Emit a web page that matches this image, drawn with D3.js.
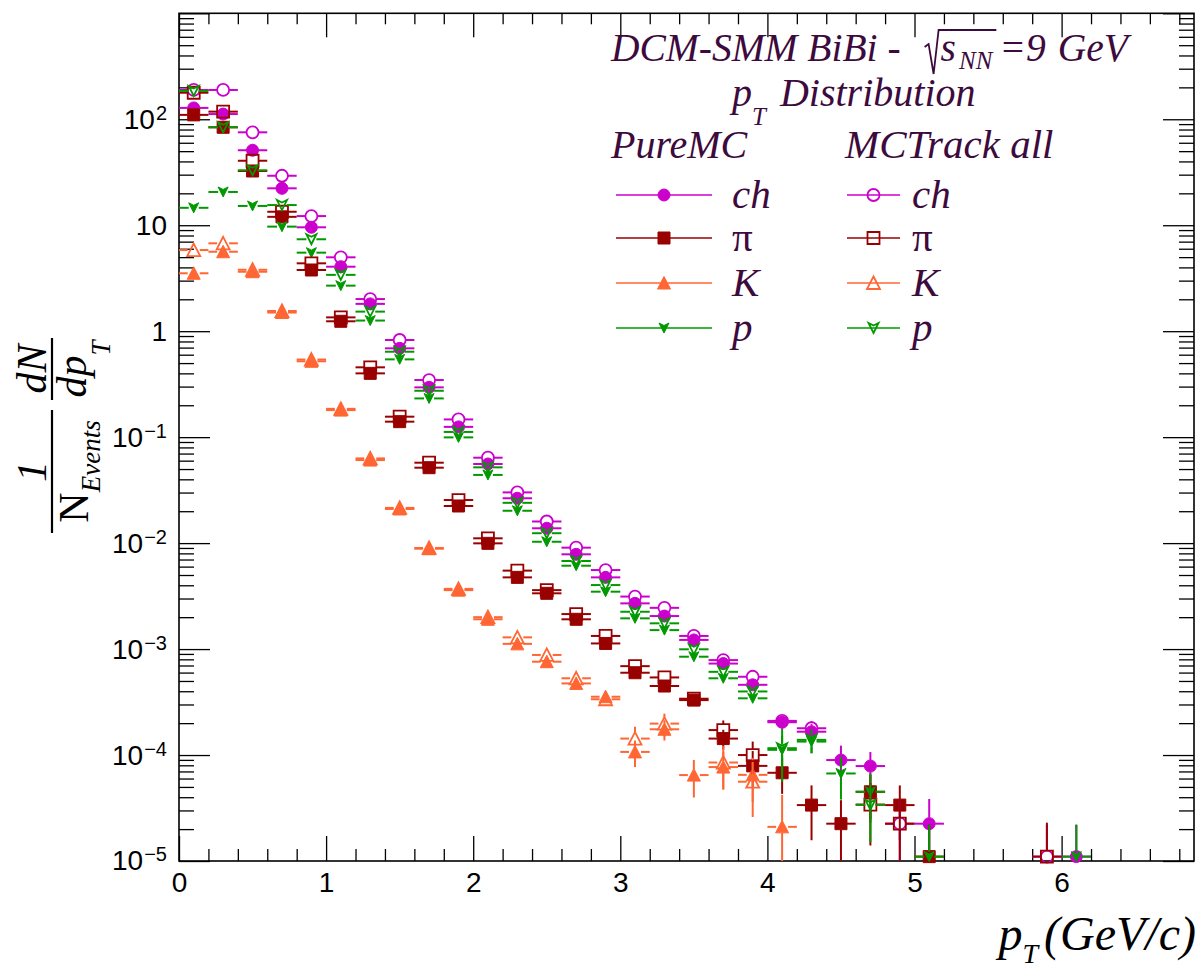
<!DOCTYPE html>
<html>
<head>
<meta charset="utf-8">
<script src="https://cdn.jsdelivr.net/npm/d3@7"></script>
<style>
  body { margin: 0; background: #fff; }
</style>
</head>
<body>
<div id="chart"></div>
<script>
// pT bin centres (GeV/c), bins are 0.2 wide
const binCenters = [0.1, 0.3, 0.5, 0.7, 0.9, 1.1, 1.3, 1.5, 1.7, 1.9, 2.1, 2.3, 2.5, 2.7, 2.9,
  3.1, 3.3, 3.5, 3.7, 3.9, 4.1, 4.3, 4.5, 4.7, 4.9, 5.1, 5.3, 5.5, 5.7, 5.9, 6.1];
const binHalf = 0.1;

// PureMC
const chPure = [128, 112, 51, 22.3, 9.56, 4.06, 1.81, 0.689, 0.295, 0.125, 0.0558, 0.0265, 0.0138, 0.00784, 0.00475,
  0.0027, 0.00205, 0.00122, 0.00073, 0.00046, 0.000204, 0.000166, 8.97e-5, 7.87e-5, null, 2.25e-5, null, null, null, null, 1.1e-5];
const piPure = [110, 84, 32.5, 12.0, 3.78, 1.24, 0.40, 0.14, 0.0515, 0.0224, 0.00995, 0.00475, 0.00336, 0.00191, 0.00113,
  0.000598, 0.000448, 0.00033, 0.000143, 7.9e-5, 6.8e-5, 3.37e-5, 2.25e-5, 4.5e-5, 3.37e-5, 1.1e-5, null, null, null, null, null];
const kPure = [3.52, 5.62, 3.64, 1.5, 0.52, 0.18, 0.0608, 0.021, 0.00885, 0.0036, 0.00191, 0.00112, 0.00076, 0.000474, 0.000355,
  0.000107, 0.000175, 6.47e-5, 7.7e-5, 6.5e-5, 2.1e-5, null, null, null, null, null, null, null, null, null, null];
const pPure = [14.6, 20.6, 15.2, 9.7, 5.51, 2.69, 1.26, 0.542, 0.232, 0.0995, 0.044, 0.0202, 0.0103, 0.00612, 0.00348,
  0.00195, 0.00151, 0.000847, 0.00053, 0.000343, 0.000112, 0.000134, 6.7e-5, 4.5e-5, null, 1.1e-5, null, null, null, null, 1.1e-5];

// MCTrack all
const chMC = [189, 189, 75.3, 29.3, 12.2, 4.98, 2.01, 0.826, 0.346, 0.147, 0.064, 0.0301, 0.016, 0.00906, 0.00557,
  0.00313, 0.00245, 0.00133, 0.000787, 0.000548, 0.00021, 0.000179, null, null, 2.25e-5, null, null, null, null, 1.1e-5, null];
const piMC = [178, 118, 40.6, 13.4, 4.37, 1.35, 0.456, 0.156, 0.0574, 0.0255, 0.0111, 0.0055, 0.0036, 0.00214, 0.00133,
  0.00069, 0.00054, 0.00034, 0.000172, 1.0e-4, null, null, null, 3.4e-5, 2.25e-5, null, null, null, null, 1.1e-5, null];
const kMC = [5.83, 6.75, 3.8, 1.55, 0.54, 0.185, 0.063, 0.0215, 0.009, 0.0037, 0.002, 0.00129, 0.00088, 0.00053, 0.000336,
  0.000143, 0.000198, null, 8.5e-5, 5.6e-5, null, null, null, null, null, null, null, null, null, null, null];
const pMC = [185, 84, 33, 15.5, 7.37, 3.4, 1.53, 0.64, 0.274, 0.112, 0.0519, 0.024, 0.0124, 0.00678, 0.00402,
  0.00225, 0.00175, 0.000995, 0.00061, 0.000398, 0.000116, 0.000139, null, 3.4e-5, null, null, null, null, null, null, null];

// vertical (statistical) errors, only where they show
const chPureErr = [0, 0, 0, 0, 0, 0, 0, 0, 0, 0, 0, 0, 0, 0, 0,
  0, 0, 0, 0, 0, 3e-5, 3e-5, 3.3e-5, 2.8e-5, 0, 1.6e-5, 0, 0, 0, 0, 1.1e-5];
const piPureErr = [0, 0, 0, 0, 0, 0, 0, 0, 0, 0, 0, 0, 0, 0, 0,
  0, 0, 4e-5, 3e-5, 3e-5, 2.5e-5, 1.8e-5, 1.5e-5, 2e-5, 1.8e-5, 1.1e-5, 0, 0, 0, 0, 0];
const kPureErr = [0, 0, 0, 0, 0, 0, 0, 0, 0, 0, 0, 0, 0, 0, 0,
  3e-5, 3.8e-5, 2.5e-5, 3e-5, 2.9e-5, 2.1e-5, 0, 0, 0, 0, 0, 0, 0, 0, 0, 0];
const pPureErr = [0, 0, 0, 0, 0, 0, 0, 0, 0, 0, 0, 0, 0, 0, 0,
  0, 0, 0, 0, 0, 4e-5, 3e-5, 2.9e-5, 2.2e-5, 0, 1.1e-5, 0, 0, 0, 0, 1.1e-5];
const chMCErr = [0, 0, 0, 0, 0, 0, 0, 0, 0, 0, 0, 0, 0, 0, 0,
  0, 0, 0, 0, 0, 3e-5, 3e-5, 0, 0, 1.5e-5, 0, 0, 0, 0, 1.1e-5, 0];
const piMCErr = [0, 0, 0, 0, 0, 0, 0, 0, 0, 0, 0, 0, 0, 0, 0,
  0, 0, 0, 4e-5, 3.4e-5, 0, 0, 0, 2e-5, 1.5e-5, 0, 0, 0, 0, 1.2e-5, 0];
const kMCErr = [0, 0, 0, 0, 0, 0, 0, 0, 0, 0, 0, 0, 0, 0, 0,
  4.2e-5, 4.8e-5, 0, 3.7e-5, 3e-5, 0, 0, 0, 0, 0, 0, 0, 0, 0, 0, 0];
const pMCErr = [0, 0, 0, 0, 0, 0, 0, 0, 0, 0, 0, 0, 0, 0, 0,
  0, 0, 0, 0, 0, 6e-5, 3.5e-5, 0, 1.9e-5, 0, 0, 0, 0, 0, 0, 0];

const xMajor = [0, 1, 2, 3, 4, 5, 6];
const yMajor = [1e-5, 1e-4, 1e-3, 1e-2, 1e-1, 1, 10, 100, 1000];
const yLabels = ['10|−5', '10|−4', '10|−3', '10|−2', '10|−1', '1', '10', '10|2', ''];
const legendNames = ['ch', 'π', 'K', 'p'];

const colCh = '#cc00cc';
const colPi = '#990000';
const colK = '#ff6633';
const colP = '#009900';
const textCol = '#3d0a3d';
const serif = "'Liberation Serif', 'Times New Roman', serif";
const sans = "'Liberation Sans', Arial, Helvetica, sans-serif";

const width = 1200, height = 972;
const box = { left: 179, right: 1194, top: 13.3, bottom: 861 };

const svg = d3.select('#chart').append('svg')
  .attr('width', width)
  .attr('height', height);

const x = d3.scaleLinear().domain([0, 6.9]).range([box.left, box.right]);
const y = d3.scaleLog().domain([1e-5, 1e3]).range([box.bottom, box.top]);

// ---- axes ----
const xMinor = d3.range(0.2, 6.9, 0.2).filter(v => Math.abs(v - Math.round(v)) > 1e-6);
const yMinor = [];
for (let k = -5; k < 3; k++) for (let m = 2; m <= 9; m++) yMinor.push(m * Math.pow(10, k));

function styleAxis(g) {
  g.select('.domain').remove();
  g.selectAll('line').attr('stroke', '#000').attr('stroke-width', 1.3);
}

svg.append('g').attr('transform', `translate(0,${box.bottom})`)
  .call(d3.axisBottom(x).tickValues(xMajor).tickSize(-25).tickPadding(11).tickFormat(d3.format('d')))
  .call(styleAxis)
  .selectAll('text').style('font-family', sans).style('font-size', '28px').attr('fill', '#000');
svg.append('g').attr('transform', `translate(0,${box.bottom})`)
  .call(d3.axisBottom(x).tickValues(xMinor).tickSize(-12).tickFormat(''))
  .call(styleAxis);
svg.append('g').attr('transform', `translate(0,${box.top})`)
  .call(d3.axisTop(x).tickValues(xMajor).tickSize(-24).tickFormat(''))
  .call(styleAxis);
svg.append('g').attr('transform', `translate(0,${box.top})`)
  .call(d3.axisTop(x).tickValues(xMinor).tickSize(-11).tickFormat(''))
  .call(styleAxis);

const yAx = svg.append('g').attr('transform', `translate(${box.left},0)`)
  .call(d3.axisLeft(y).tickValues(yMajor).tickSize(-31).tickPadding(12).tickFormat((d, i) => yLabels[i]))
  .call(styleAxis);
yAx.selectAll('text')
  .style('font-family', sans).style('font-size', '28px').attr('fill', '#000')
  .each(function () {
    const t = d3.select(this);
    const parts = t.text().split('|');
    t.text(parts[0]);
    if (parts.length > 1) {
      t.append('tspan').attr('dy', '-0.45em').attr('dx', 1).style('font-size', '20px').text(parts[1]);
    }
  });
svg.append('g').attr('transform', `translate(${box.left},0)`)
  .call(d3.axisLeft(y).tickValues(yMinor).tickSize(-15).tickFormat(''))
  .call(styleAxis);
svg.append('g').attr('transform', `translate(${box.right},0)`)
  .call(d3.axisRight(y).tickValues(yMajor).tickSize(-31).tickFormat(''))
  .call(styleAxis);
svg.append('g').attr('transform', `translate(${box.right},0)`)
  .call(d3.axisRight(y).tickValues(yMinor).tickSize(-15).tickFormat(''))
  .call(styleAxis);

svg.append('rect')
  .attr('x', box.left).attr('y', box.top)
  .attr('width', box.right - box.left).attr('height', box.bottom - box.top)
  .attr('fill', 'none').attr('stroke', '#000').attr('stroke-width', 1.6);

// ---- markers ----
const markerPaths = {
  circle: 'M-6,0A6,6 0 1,0 6,0A6,6 0 1,0 -6,0Z',
  square: 'M-6,-6H6V6H-6Z',
  triUp: 'M0,-6.5L6.5,6L-6.5,6Z',
  triDown: 'M0,5L5,-5L0,-2.5L-5,-5Z'
};
const markerGap = { circle: 6, square: 6, triUp: 6, triDown: 5 };

function drawMarker(g, shape, filled, color, cx, cy) {
  g.append('path')
    .attr('d', markerPaths[shape])
    .attr('transform', `translate(${cx},${cy})`)
    .attr('fill', filled ? color : 'none')
    .attr('stroke', color)
    .attr('stroke-width', filled ? 1 : 1.8);
}

const series = [
  { values: chPure, errors: chPureErr, color: colCh, shape: 'circle', filled: true },
  { values: piPure, errors: piPureErr, color: colPi, shape: 'square', filled: true },
  { values: kPure, errors: kPureErr, color: colK, shape: 'triUp', filled: true },
  { values: pPure, errors: pPureErr, color: colP, shape: 'triDown', filled: true },
  { values: chMC, errors: chMCErr, color: colCh, shape: 'circle', filled: false },
  { values: piMC, errors: piMCErr, color: colPi, shape: 'square', filled: false },
  { values: kMC, errors: kMCErr, color: colK, shape: 'triUp', filled: false },
  { values: pMC, errors: pMCErr, color: colP, shape: 'triDown', filled: false }
];

const plot = svg.append('g');
series.forEach(s => {
  const g = plot.append('g');
  const gap = markerGap[s.shape];
  const pts = binCenters.map((c, i) => ({ c: c, v: s.values[i], e: s.errors[i] }))
    .filter(d => d.v !== null);
  pts.forEach(d => {
    const cx = x(d.c), cy = y(d.v);
    const segs = [
      [x(d.c - binHalf), cy, cx - gap, cy],
      [cx + gap, cy, x(d.c + binHalf), cy]
    ];
    if (d.e > 0) {
      const top = y(d.v + d.e);
      const bot = d.v - d.e > 1e-5 ? y(d.v - d.e) : box.bottom;
      if (top < cy - gap) segs.push([cx, top, cx, cy - gap]);
      if (bot > cy + gap) segs.push([cx, cy + gap, cx, bot]);
    }
    segs.forEach(sg => {
      g.append('line')
        .attr('x1', sg[0]).attr('y1', sg[1]).attr('x2', sg[2]).attr('y2', sg[3])
        .attr('stroke', s.color).attr('stroke-width', 2);
    });
    drawMarker(g, s.shape, s.filled, s.color, cx, cy);
  });
});

// ---- TLatex-like text: one <text> with tspans ----
function latex(g, x0, baseline, pieces, opts) {
  opts = opts || {};
  const t = g.append('text')
    .attr('x', x0).attr('y', baseline)
    .style('font-family', serif).style('font-style', 'italic')
    .attr('fill', opts.color || textCol);
  let shift = 0, pad = 0;
  pieces.forEach(p => {
    if (p.space) { pad += p.space; return; }
    const dy = (p.dy || 0) - shift;
    shift = p.dy || 0;
    const sp = t.append('tspan')
      .attr('dx', pad).attr('dy', dy)
      .style('font-size', p.size + 'px')
      .text(p.t);
    if (p.upright) sp.style('font-style', 'normal');
    p.node = sp.node();
    pad = 0;
  });
  // record piece extents
  let total = 0;
  const node = t.node();
  let charIdx = 0;
  pieces.forEach(p => {
    if (!p.node) return;
    p.x0 = node.getStartPositionOfChar(charIdx).x;
    charIdx += p.t.length;
    p.x1 = node.getEndPositionOfChar(charIdx - 1).x;
    total = p.x1;
  });
  return { text: t, end: total };
}

const hdr = svg.append('g');
const titlePieces = [
  { t: 'DCM-SMM BiBi -', size: 39.5 },
  { space: 40 },
  { t: 's', size: 39.5 },
  { space: 3 },
  { t: 'NN', size: 25, dy: 8 },
  { space: 7 },
  { t: '=9', size: 39.5 },
  { space: 12 },
  { t: 'GeV', size: 39.5 }
];
latex(hdr, 611, 61, titlePieces);
const rx = titlePieces[2].x0 - 2;
hdr.append('path')
  .attr('d', `M${rx - 14},${47} L${rx - 10},${44} L${rx - 5},${74} L${rx},${30} H${titlePieces[4].x1 + 4}`)
  .attr('fill', 'none').attr('stroke', textCol).attr('stroke-width', 1.8);

latex(hdr, 732, 106, [
  { t: 'p', size: 40 },
  { t: 'T', size: 25, dy: 19 },
  { space: 14 },
  { t: 'Distribution', size: 40 }
]);

hdr.append('text').attr('x', 611).attr('y', 158)
  .style('font-family', serif).style('font-style', 'italic').style('font-size', '40px')
  .attr('fill', textCol).text('PureMC');
hdr.append('text').attr('x', 845).attr('y', 158)
  .style('font-family', serif).style('font-style', 'italic').style('font-size', '41px')
  .attr('fill', textCol).text('MCTrack all');

// ---- legend ----
const legRows = [195, 238, 283, 328];
const legCols = [
  { x1: 616, x2: 712, text: 732, items: series.slice(0, 4) },
  { x1: 847, x2: 900, text: 912, items: series.slice(4, 8) }
];
legCols.forEach(col => {
  col.items.forEach((s, i) => {
    const ly = legRows[i];
    hdr.append('line').attr('x1', col.x1).attr('x2', col.x2).attr('y1', ly).attr('y2', ly)
      .attr('stroke', s.color).attr('stroke-width', 1.6);
    drawMarker(hdr, s.shape, s.filled, s.color, (col.x1 + col.x2) / 2, ly);
    hdr.append('text').attr('x', col.text).attr('y', ly + 13)
      .style('font-family', serif).style('font-style', i === 1 ? 'normal' : 'italic')
      .style('font-size', '41px').attr('fill', textCol).text(legendNames[i]);
  });
});

// ---- axis titles ----
const xt = svg.append('g');
const xtRes = latex(xt, 0, 950, [
  { t: 'p', size: 48 },
  { t: 'T', size: 28, dy: 13 },
  { space: 6 },
  { t: '(GeV/c)', size: 48 }
], { color: '#000' });
xt.attr('transform', `translate(${1196 - xtRes.end},0)`);

const yt = svg.append('g').attr('transform', 'translate(52,468) rotate(-90)');
function frac(g, u0, u1) {
  g.append('line').attr('x1', u0).attr('x2', u1).attr('y1', 0).attr('y2', 0)
    .attr('stroke', '#000').attr('stroke-width', 2.2);
}
frac(yt, -65, 58);
frac(yt, 68, 130);
function centred(g, uc, baseline, pieces) {
  const tmp = g.append('g');
  const res = latex(tmp, 0, baseline, pieces, { color: '#000' });
  tmp.attr('transform', `translate(${uc - res.end / 2},0)`);
}
centred(yt, -3.5, -6, [{ t: '1', size: 42 }]);
centred(yt, -3.5, 36, [
  { t: 'N', size: 42, upright: true },
  { t: 'Events', size: 27, dy: 12 }
]);
centred(yt, 99, -6, [{ t: 'dN', size: 42 }]);
centred(yt, 99, 34, [
  { t: 'dp', size: 42 },
  { t: 'T', size: 27, dy: 24 }
]);
</script>
</body>
</html>
